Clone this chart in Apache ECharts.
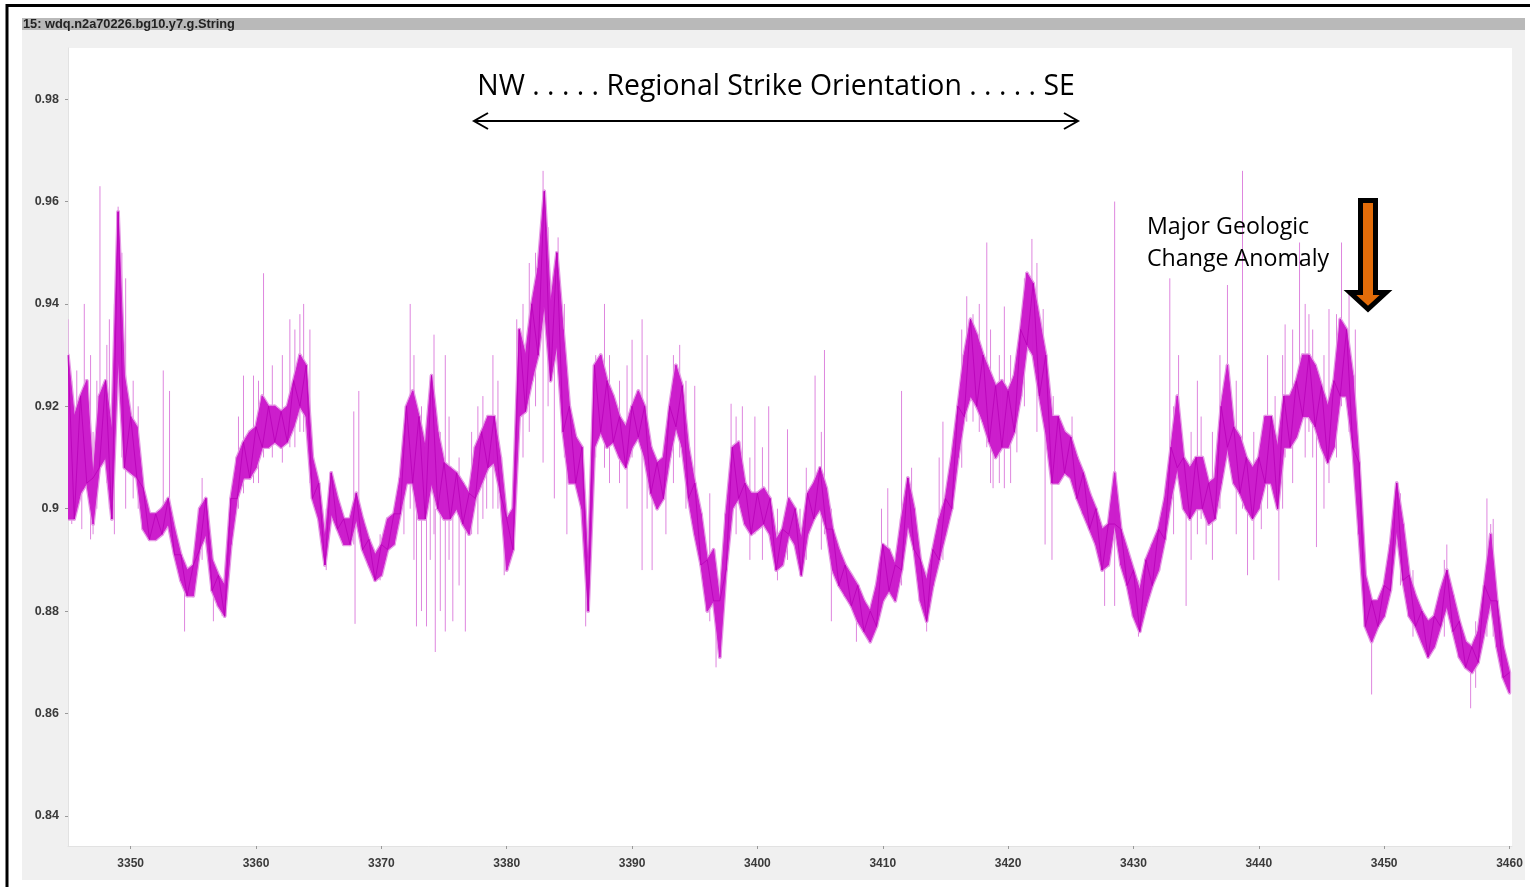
<!DOCTYPE html>
<html>
<head>
<meta charset="utf-8">
<script src="https://cdn.jsdelivr.net/npm/echarts@6/dist/echarts.min.js"></script>
<style>
  html, body { margin: 0; padding: 0; background: #fff; }
  #chartBox { width: 1530px; height: 887px; }
</style>
</head>
<body>
<div id="chartBox"></div>
<script>
// tick labels
const xTicks = [3350, 3360, 3370, 3380, 3390, 3400, 3410, 3420, 3430, 3440, 3450, 3460];
const yTicks = [0.84, 0.86, 0.88, 0.9, 0.92, 0.94, 0.96, 0.98];

// dense trace: [depth, low edge, high edge]
const band = [
  [3345.0, 0.898, 0.930], [3345.5, 0.898, 0.918], [3346.0, 0.903, 0.922], [3346.5, 0.905, 0.925],
  [3347.0, 0.897, 0.906], [3347.5, 0.908, 0.922], [3348.0, 0.910, 0.925], [3348.5, 0.898, 0.915],
  [3349.0, 0.930, 0.958], [3349.5, 0.908, 0.926], [3350.0, 0.907, 0.918], [3350.5, 0.906, 0.916],
  [3351.0, 0.896, 0.904], [3351.5, 0.894, 0.899], [3352.0, 0.894, 0.899], [3352.5, 0.895, 0.900],
  [3353.0, 0.897, 0.902], [3353.5, 0.891, 0.896], [3354.0, 0.886, 0.891], [3354.5, 0.883, 0.888],
  [3355.0, 0.883, 0.889], [3355.5, 0.892, 0.900], [3356.0, 0.895, 0.902], [3356.5, 0.884, 0.890],
  [3357.0, 0.881, 0.887], [3357.5, 0.879, 0.885], [3358.0, 0.893, 0.902], [3358.5, 0.902, 0.910],
  [3359.0, 0.906, 0.913], [3359.5, 0.906, 0.915], [3360.0, 0.908, 0.916], [3360.5, 0.912, 0.922],
  [3361.0, 0.912, 0.920], [3361.5, 0.913, 0.920], [3362.0, 0.912, 0.919], [3362.5, 0.913, 0.920],
  [3363.0, 0.916, 0.925], [3363.5, 0.920, 0.930], [3364.0, 0.918, 0.928], [3364.5, 0.902, 0.910],
  [3365.0, 0.898, 0.905], [3365.5, 0.889, 0.894], [3366.0, 0.899, 0.907], [3366.5, 0.896, 0.902],
  [3367.0, 0.893, 0.898], [3367.5, 0.893, 0.898], [3368.0, 0.898, 0.903], [3368.5, 0.892, 0.898],
  [3369.0, 0.889, 0.894], [3369.5, 0.886, 0.891], [3370.0, 0.887, 0.893], [3370.5, 0.892, 0.898],
  [3371.0, 0.893, 0.899], [3371.5, 0.899, 0.906], [3372.0, 0.905, 0.920], [3372.5, 0.905, 0.923],
  [3373.0, 0.898, 0.918], [3373.5, 0.898, 0.912], [3374.0, 0.905, 0.926], [3374.5, 0.900, 0.915],
  [3375.0, 0.898, 0.909], [3375.5, 0.898, 0.908], [3376.0, 0.900, 0.907], [3376.5, 0.897, 0.905],
  [3377.0, 0.895, 0.903], [3377.5, 0.902, 0.912], [3378.0, 0.905, 0.915], [3378.5, 0.908, 0.918],
  [3379.0, 0.909, 0.918], [3379.5, 0.903, 0.910], [3380.0, 0.888, 0.898], [3380.5, 0.892, 0.900],
  [3381.0, 0.918, 0.935], [3381.5, 0.919, 0.930], [3382.0, 0.925, 0.940], [3382.5, 0.930, 0.947],
  [3383.0, 0.940, 0.962], [3383.5, 0.925, 0.940], [3384.0, 0.932, 0.950], [3384.5, 0.915, 0.935],
  [3385.0, 0.905, 0.920], [3385.5, 0.905, 0.914], [3386.0, 0.900, 0.912], [3386.5, 0.880, 0.888],
  [3387.0, 0.912, 0.928], [3387.5, 0.915, 0.930], [3388.0, 0.912, 0.925], [3388.5, 0.913, 0.922],
  [3389.0, 0.910, 0.918], [3389.5, 0.908, 0.916], [3390.0, 0.912, 0.920], [3390.5, 0.914, 0.923],
  [3391.0, 0.910, 0.920], [3391.5, 0.903, 0.912], [3392.0, 0.900, 0.909], [3392.5, 0.902, 0.910],
  [3393.0, 0.910, 0.920], [3393.5, 0.916, 0.928], [3394.0, 0.912, 0.924], [3394.5, 0.902, 0.912],
  [3395.0, 0.895, 0.905], [3395.5, 0.889, 0.899], [3396.0, 0.880, 0.890], [3396.5, 0.882, 0.892],
  [3397.0, 0.871, 0.882], [3397.5, 0.888, 0.899], [3398.0, 0.900, 0.912], [3398.5, 0.902, 0.913],
  [3399.0, 0.897, 0.905], [3399.5, 0.895, 0.903], [3400.0, 0.896, 0.903], [3400.5, 0.897, 0.904],
  [3401.0, 0.895, 0.902], [3401.5, 0.888, 0.894], [3402.0, 0.889, 0.896], [3402.5, 0.895, 0.902],
  [3403.0, 0.893, 0.900], [3403.5, 0.887, 0.894], [3404.0, 0.895, 0.903], [3404.5, 0.898, 0.905],
  [3405.0, 0.900, 0.908], [3405.5, 0.896, 0.904], [3406.0, 0.888, 0.896], [3406.5, 0.885, 0.892],
  [3407.0, 0.883, 0.889], [3407.5, 0.881, 0.887], [3408.0, 0.878, 0.885], [3408.5, 0.876, 0.882],
  [3409.0, 0.874, 0.880], [3409.5, 0.877, 0.885], [3410.0, 0.882, 0.893], [3410.5, 0.884, 0.892],
  [3411.0, 0.882, 0.889], [3411.5, 0.888, 0.898], [3412.0, 0.897, 0.906], [3412.5, 0.892, 0.900],
  [3413.0, 0.882, 0.890], [3413.5, 0.878, 0.886], [3414.0, 0.885, 0.892], [3414.5, 0.890, 0.898],
  [3415.0, 0.895, 0.902], [3415.5, 0.900, 0.910], [3416.0, 0.910, 0.920], [3416.5, 0.918, 0.930],
  [3417.0, 0.922, 0.937], [3417.5, 0.920, 0.934], [3418.0, 0.917, 0.930], [3418.5, 0.913, 0.927],
  [3419.0, 0.910, 0.924], [3419.5, 0.912, 0.925], [3420.0, 0.912, 0.923], [3420.5, 0.915, 0.926],
  [3421.0, 0.922, 0.935], [3421.5, 0.932, 0.946], [3422.0, 0.930, 0.944], [3422.5, 0.922, 0.937],
  [3423.0, 0.915, 0.930], [3423.5, 0.905, 0.918], [3424.0, 0.905, 0.918], [3424.5, 0.907, 0.915],
  [3425.0, 0.906, 0.914], [3425.5, 0.902, 0.910], [3426.0, 0.899, 0.907], [3426.5, 0.896, 0.903],
  [3427.0, 0.893, 0.900], [3427.5, 0.888, 0.896], [3428.0, 0.889, 0.897], [3428.5, 0.897, 0.907],
  [3429.0, 0.889, 0.896], [3429.5, 0.885, 0.892], [3430.0, 0.879, 0.888], [3430.5, 0.876, 0.884],
  [3431.0, 0.881, 0.890], [3431.5, 0.885, 0.893], [3432.0, 0.888, 0.896], [3432.5, 0.894, 0.902],
  [3433.0, 0.902, 0.912], [3433.5, 0.908, 0.922], [3434.0, 0.900, 0.910], [3434.5, 0.898, 0.908],
  [3435.0, 0.900, 0.910], [3435.5, 0.900, 0.910], [3436.0, 0.897, 0.905], [3436.5, 0.898, 0.906],
  [3437.0, 0.905, 0.920], [3437.5, 0.912, 0.928], [3438.0, 0.905, 0.916], [3438.5, 0.903, 0.914],
  [3439.0, 0.900, 0.910], [3439.5, 0.898, 0.908], [3440.0, 0.900, 0.910], [3440.5, 0.905, 0.918],
  [3441.0, 0.905, 0.918], [3441.5, 0.900, 0.912], [3442.0, 0.912, 0.922], [3442.5, 0.912, 0.922],
  [3443.0, 0.914, 0.925], [3443.5, 0.918, 0.930], [3444.0, 0.918, 0.930], [3444.5, 0.916, 0.928],
  [3445.0, 0.912, 0.924], [3445.5, 0.909, 0.920], [3446.0, 0.912, 0.925], [3446.5, 0.922, 0.937],
  [3447.0, 0.922, 0.935], [3447.5, 0.912, 0.926], [3448.0, 0.895, 0.909], [3448.5, 0.877, 0.887],
  [3449.0, 0.874, 0.882], [3449.5, 0.877, 0.882], [3450.0, 0.879, 0.885], [3450.5, 0.884, 0.893],
  [3451.0, 0.896, 0.905], [3451.5, 0.886, 0.897], [3452.0, 0.879, 0.887], [3452.5, 0.877, 0.883],
  [3453.0, 0.874, 0.880], [3453.5, 0.871, 0.878], [3454.0, 0.873, 0.879], [3454.5, 0.877, 0.884],
  [3455.0, 0.881, 0.888], [3455.5, 0.876, 0.883], [3456.0, 0.871, 0.878], [3456.5, 0.869, 0.874],
  [3457.0, 0.868, 0.873], [3457.5, 0.870, 0.876], [3458.0, 0.876, 0.885], [3458.5, 0.882, 0.895],
  [3459.0, 0.873, 0.882], [3459.5, 0.867, 0.873], [3460.0, 0.864, 0.868]
];

// thin single-sample spikes: [depth, bottom, top]
const spikes = [
  [3345.0, 0.900, 0.937], [3345.3, 0.897, 0.925], [3345.7, 0.905, 0.927], [3346.1, 0.896, 0.915],
  [3346.3, 0.905, 0.940], [3346.8, 0.894, 0.930], [3347.0, 0.895, 0.915], [3347.3, 0.900, 0.925],
  [3347.55, 0.912, 0.963], [3348.1, 0.905, 0.932], [3348.3, 0.900, 0.937], [3348.7, 0.895, 0.940],
  [3349.0, 0.930, 0.959], [3349.3, 0.910, 0.950], [3349.6, 0.900, 0.945], [3350.2, 0.902, 0.925],
  [3350.6, 0.900, 0.920], [3352.6, 0.896, 0.927], [3353.1, 0.896, 0.923], [3354.3, 0.876, 0.888],
  [3355.7, 0.890, 0.906], [3356.6, 0.878, 0.890], [3357.3, 0.879, 0.886], [3358.6, 0.900, 0.918],
  [3359.0, 0.903, 0.926], [3359.8, 0.905, 0.926], [3360.2, 0.905, 0.925], [3360.6, 0.910, 0.946],
  [3361.3, 0.910, 0.928], [3362.1, 0.909, 0.930], [3362.7, 0.912, 0.937], [3363.1, 0.912, 0.935],
  [3363.5, 0.915, 0.938], [3363.8, 0.915, 0.940], [3364.3, 0.905, 0.935], [3365.6, 0.888, 0.900],
  [3367.8, 0.893, 0.919], [3367.9, 0.8775, 0.900], [3368.2, 0.895, 0.923], [3369.9, 0.886, 0.895],
  [3371.8, 0.895, 0.915], [3372.3, 0.900, 0.940], [3372.6, 0.890, 0.930], [3372.8, 0.877, 0.910],
  [3373.2, 0.880, 0.920], [3373.6, 0.877, 0.910], [3373.9, 0.890, 0.925], [3374.2, 0.895, 0.934],
  [3374.3, 0.872, 0.900], [3374.7, 0.880, 0.915], [3375.1, 0.876, 0.930], [3375.4, 0.890, 0.918],
  [3375.7, 0.878, 0.905], [3376.2, 0.885, 0.910], [3376.7, 0.876, 0.900], [3377.2, 0.895, 0.915],
  [3377.7, 0.895, 0.920], [3378.1, 0.898, 0.922], [3378.4, 0.900, 0.916], [3378.9, 0.900, 0.930],
  [3379.3, 0.900, 0.925], [3379.8, 0.887, 0.900], [3380.8, 0.905, 0.937], [3381.3, 0.910, 0.940],
  [3381.8, 0.915, 0.948], [3382.3, 0.920, 0.950], [3382.9, 0.909, 0.966], [3383.3, 0.920, 0.955],
  [3383.8, 0.902, 0.930], [3384.1, 0.930, 0.953], [3384.6, 0.910, 0.940], [3384.8, 0.895, 0.920],
  [3386.3, 0.877, 0.900], [3387.1, 0.910, 0.930], [3387.8, 0.908, 0.940], [3388.2, 0.905, 0.930],
  [3389.0, 0.905, 0.925], [3389.6, 0.900, 0.928], [3390.0, 0.910, 0.933], [3390.8, 0.888, 0.937],
  [3391.2, 0.900, 0.930], [3391.6, 0.888, 0.905], [3392.7, 0.895, 0.915], [3393.3, 0.905, 0.930],
  [3393.8, 0.910, 0.932], [3394.3, 0.900, 0.925], [3395.0, 0.900, 0.924], [3396.2, 0.878, 0.903],
  [3396.7, 0.869, 0.885], [3397.9, 0.900, 0.9205], [3398.3, 0.895, 0.918], [3398.8, 0.900, 0.920],
  [3399.4, 0.890, 0.910], [3399.8, 0.895, 0.918], [3400.4, 0.890, 0.912], [3400.9, 0.895, 0.920],
  [3401.6, 0.886, 0.900], [3402.4, 0.890, 0.9155], [3403.4, 0.888, 0.900], [3403.9, 0.890, 0.908],
  [3404.6, 0.900, 0.926], [3405.1, 0.892, 0.915], [3405.35, 0.895, 0.931], [3405.9, 0.878, 0.900],
  [3407.9, 0.874, 0.885], [3409.9, 0.882, 0.900], [3410.4, 0.884, 0.904], [3411.5, 0.885, 0.923],
  [3412.3, 0.895, 0.908], [3413.5, 0.876, 0.886], [3414.5, 0.890, 0.910], [3414.8, 0.890, 0.917],
  [3416.3, 0.908, 0.935], [3416.7, 0.917, 0.9415], [3417.2, 0.917, 0.938], [3417.7, 0.915, 0.940],
  [3418.3, 0.912, 0.952], [3418.6, 0.905, 0.935], [3418.8, 0.904, 0.920], [3419.3, 0.905, 0.930],
  [3419.7, 0.904, 0.9395], [3420.2, 0.905, 0.930], [3420.7, 0.911, 0.925], [3421.3, 0.920, 0.945],
  [3421.9, 0.930, 0.9527], [3422.3, 0.915, 0.948], [3422.8, 0.920, 0.939], [3422.95, 0.893, 0.920],
  [3423.5, 0.890, 0.910], [3423.6, 0.905, 0.922], [3425.1, 0.905, 0.918], [3427.7, 0.881, 0.895],
  [3428.5, 0.881, 0.960], [3430.4, 0.875, 0.886], [3432.9, 0.900, 0.945], [3433.2, 0.895, 0.920],
  [3433.6, 0.905, 0.930], [3434.2, 0.881, 0.905], [3434.6, 0.890, 0.915], [3435.1, 0.895, 0.925],
  [3435.4, 0.898, 0.918], [3435.8, 0.893, 0.905], [3436.3, 0.890, 0.915], [3436.9, 0.900, 0.930],
  [3437.5, 0.910, 0.9437], [3438.2, 0.895, 0.925], [3438.7, 0.900, 0.966], [3439.1, 0.887, 0.905],
  [3439.6, 0.890, 0.915], [3440.2, 0.896, 0.910], [3440.7, 0.900, 0.930], [3441.3, 0.905, 0.922],
  [3441.6, 0.886, 0.905], [3441.9, 0.900, 0.930], [3442.1, 0.910, 0.936], [3442.7, 0.905, 0.935],
  [3443.25, 0.915, 0.952], [3443.7, 0.910, 0.940], [3444.0, 0.915, 0.938], [3444.3, 0.910, 0.935],
  [3444.6, 0.8925, 0.915], [3445.2, 0.900, 0.930], [3445.6, 0.905, 0.939], [3446.2, 0.910, 0.938],
  [3446.6, 0.920, 0.952], [3447.2, 0.915, 0.942], [3447.7, 0.905, 0.935], [3449.0, 0.8637, 0.880],
  [3451.0, 0.895, 0.905], [3451.3, 0.885, 0.903], [3452.3, 0.875, 0.888], [3454.8, 0.875, 0.890],
  [3455.0, 0.880, 0.893], [3456.9, 0.861, 0.872], [3457.3, 0.865, 0.878], [3458.2, 0.875, 0.902],
  [3458.5, 0.880, 0.897], [3458.7, 0.875, 0.898]
];

// zigzag from one band edge to the other, for the noisy texture of the trace
let zigzag = [];
band.forEach(function (r, i) {
  zigzag.push([r[0], i % 2 === 0 ? r[2] : r[1]]);
});

function bandRenderer (fill, stroke, width) {
  return function (params, api) {
    let i = params.dataIndex;
    if (i >= band.length - 1) return null;
    let a = band[i], b = band[i + 1];
    return {
      type: 'polygon',
      shape: {
        points: [
          api.coord([a[0], a[1]]), api.coord([a[0], a[2]]),
          api.coord([b[0], b[2]]), api.coord([b[0], b[1]])
        ]
      },
      style: { fill: fill, stroke: stroke, lineWidth: width, lineJoin: 'round' }
    };
  };
}

function renderSpike (params, api) {
  let p0 = api.coord([api.value(0), api.value(1)]);
  let p1 = api.coord([api.value(0), api.value(2)]);
  return {
    type: 'line',
    shape: { x1: p0[0], y1: p0[1], x2: p1[0], y2: p1[1] },
    style: { stroke: '#de86de', lineWidth: 1 }
  };
}

let myChart = echarts.init(document.getElementById('chartBox'));
let labelFont = { fontFamily: 'Liberation Sans', fontWeight: 'bold', color: '#3a3a3a' };

myChart.setOption({
  animation: false,
  backgroundColor: '#fff',
  grid: {
    left: 68, right: 18, top: 48, bottom: 41,
    show: true, backgroundColor: '#fff', borderWidth: 0
  },
  xAxis: {
    type: 'value',
    min: 3345,
    max: 3460.2,
    axisLine: { show: true, lineStyle: { color: '#e2e2e2' } },
    axisTick: { show: true, length: 3, customValues: xTicks, lineStyle: { color: '#999' } },
    axisLabel: Object.assign({
      customValues: xTicks, fontSize: 12, margin: 12,
      formatter: function (v) { return String(v); }
    }, labelFont),
    splitLine: { show: false }
  },
  yAxis: {
    type: 'value',
    min: 0.8341,
    max: 0.99,
    axisLine: { show: true, lineStyle: { color: '#e2e2e2' } },
    axisTick: { show: true, length: 3, customValues: yTicks, lineStyle: { color: '#999' } },
    axisLabel: Object.assign({
      customValues: yTicks, fontSize: 12.5, margin: 9,
      formatter: function (v) { return String(+v.toFixed(2)); }
    }, labelFont),
    splitLine: { show: false }
  },
  series: [
    {
      type: 'custom',
      name: 'spikes',
      renderItem: renderSpike,
      data: spikes,
      encode: { x: 0, y: [1, 2] },
      clip: true,
      silent: true,
      z: 2
    },
    {
      type: 'custom',
      name: 'halo',
      renderItem: bandRenderer('#e59ae5', '#e59ae5', 3.5),
      data: band,
      encode: { x: 0, y: [1, 2] },
      clip: true,
      silent: true,
      z: 3
    },
    {
      type: 'custom',
      name: 'band',
      renderItem: bandRenderer('#cc1ecc', '#cc1ecc', 1),
      data: band,
      encode: { x: 0, y: [1, 2] },
      clip: true,
      silent: true,
      z: 4
    },
    {
      type: 'line',
      name: 'trace',
      data: zigzag,
      showSymbol: false,
      clip: true,
      silent: true,
      lineStyle: { color: '#b800b8', width: 1, opacity: 0.8 },
      z: 5
    }
  ],
  graphic: [
    // grey window panel, title bar and outer frame
    { type: 'rect', z: -100, shape: { x: 22, y: 30, width: 1503, height: 850 }, style: { fill: '#f0f0f0' } },
    { type: 'rect', z: -99, shape: { x: 22, y: 18, width: 1503, height: 12 }, style: { fill: '#b9b9b9' } },
    {
      type: 'text', z: -98, x: 23, y: 24,
      style: {
        text: '15: wdq.n2a70226.bg10.y7.g.String', fill: '#222',
        font: 'bold 12.8px "Liberation Sans"', verticalAlign: 'middle'
      }
    },
    { type: 'rect', z: 100, shape: { x: 7, y: 5.5, width: 1540, height: 900 }, style: { fill: 'none', stroke: '#000', lineWidth: 3 } },
    // annotations
    {
      type: 'text', z: 100, x: 776, y: 87,
      style: {
        text: 'NW . . . . . Regional Strike Orientation . . . . . SE', fill: '#000',
        font: '28.4px "Open Sans"', align: 'center', verticalAlign: 'middle'
      }
    },
    { type: 'line', z: 100, shape: { x1: 474, y1: 121, x2: 1078, y2: 121 }, style: { stroke: '#000', lineWidth: 2 } },
    { type: 'polyline', z: 100, shape: { points: [[488, 113], [474, 121], [488, 129]] }, style: { stroke: '#000', lineWidth: 2, fill: 'none' } },
    { type: 'polyline', z: 100, shape: { points: [[1064, 113], [1078, 121], [1064, 129]] }, style: { stroke: '#000', lineWidth: 2, fill: 'none' } },
    {
      type: 'text', z: 100, x: 1147, y: 227,
      style: { text: 'Major Geologic', fill: '#000', font: '23.2px "Open Sans"', verticalAlign: 'middle' }
    },
    {
      type: 'text', z: 100, x: 1147, y: 259,
      style: { text: 'Change Anomaly', fill: '#000', font: '23.2px "Open Sans"', verticalAlign: 'middle' }
    },
    {
      type: 'polygon', z: 100,
      shape: {
        points: [[1360.5, 200.5], [1375.5, 200.5], [1375.5, 292.5], [1386, 292.5],
          [1368, 309], [1350, 292.5], [1360.5, 292.5]]
      },
      style: { fill: '#e36c09', stroke: '#000', lineWidth: 5, lineJoin: 'miter' }
    }
  ]
});
</script>
</body>
</html>
